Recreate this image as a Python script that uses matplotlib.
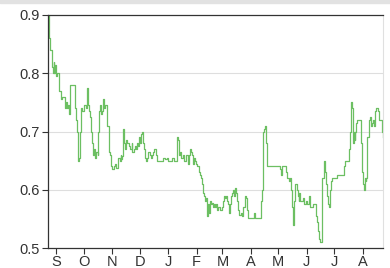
import pandas as pd
import matplotlib
matplotlib.use("Agg")
import matplotlib.pyplot as plt
import matplotlib.dates as mdates
from matplotlib.patches import Rectangle

# Series (daily-ish samples, step line)
dates = [
    "2013-08-23", "2013-08-24", "2013-08-25", "2013-08-27", "2013-08-28", "2013-08-29",
    "2013-08-30", "2013-08-31", "2013-09-01", "2013-09-02", "2013-09-04", "2013-09-06",
    "2013-09-07", "2013-09-10", "2013-09-12", "2013-09-13", "2013-09-14", "2013-09-15",
    "2013-09-16", "2013-09-19", "2013-09-21", "2013-09-22", "2013-09-23", "2013-09-24",
    "2013-09-25", "2013-09-26", "2013-09-27", "2013-09-28", "2013-09-29", "2013-10-01",
    "2013-10-03", "2013-10-04", "2013-10-05", "2013-10-06", "2013-10-07", "2013-10-08",
    "2013-10-09", "2013-10-10", "2013-10-11", "2013-10-12", "2013-10-13", "2013-10-14",
    "2013-10-16", "2013-10-17", "2013-10-18", "2013-10-19", "2013-10-20", "2013-10-21",
    "2013-10-22", "2013-10-23", "2013-10-24", "2013-10-26", "2013-10-28", "2013-10-29",
    "2013-10-30", "2013-10-31", "2013-11-01", "2013-11-03", "2013-11-04", "2013-11-05",
    "2013-11-07", "2013-11-09", "2013-11-10", "2013-11-11", "2013-11-12", "2013-11-13",
    "2013-11-14", "2013-11-15", "2013-11-16", "2013-11-17", "2013-11-19", "2013-11-20",
    "2013-11-22", "2013-11-23", "2013-11-25", "2013-11-26", "2013-11-27", "2013-11-28",
    "2013-11-29", "2013-11-30", "2013-12-01", "2013-12-02", "2013-12-03", "2013-12-05",
    "2013-12-06", "2013-12-07", "2013-12-08", "2013-12-09", "2013-12-10", "2013-12-12",
    "2013-12-13", "2013-12-14", "2013-12-15", "2013-12-17", "2013-12-19", "2013-12-20",
    "2013-12-21", "2013-12-25", "2013-12-26", "2013-12-29", "2013-12-31", "2014-01-01",
    "2014-01-03", "2014-01-05", "2014-01-07", "2014-01-10", "2014-01-11", "2014-01-12",
    "2014-01-13", "2014-01-14", "2014-01-15", "2014-01-17", "2014-01-18", "2014-01-20",
    "2014-01-22", "2014-01-23", "2014-01-24", "2014-01-25", "2014-01-26", "2014-01-27",
    "2014-01-28", "2014-01-29", "2014-01-30", "2014-01-31", "2014-02-01", "2014-02-02",
    "2014-02-04", "2014-02-05", "2014-02-06", "2014-02-07", "2014-02-08", "2014-02-09",
    "2014-02-10", "2014-02-11", "2014-02-12", "2014-02-13", "2014-02-14", "2014-02-16",
    "2014-02-17", "2014-02-18", "2014-02-19", "2014-02-20", "2014-02-21", "2014-02-22",
    "2014-02-23", "2014-02-24", "2014-02-26", "2014-03-01", "2014-03-02", "2014-03-03",
    "2014-03-04", "2014-03-05", "2014-03-06", "2014-03-07", "2014-03-08", "2014-03-09",
    "2014-03-10", "2014-03-11", "2014-03-13", "2014-03-14", "2014-03-15", "2014-03-16",
    "2014-03-17", "2014-03-18", "2014-03-19", "2014-03-21", "2014-03-22", "2014-03-24",
    "2014-03-26", "2014-03-27", "2014-03-28", "2014-03-29", "2014-04-03", "2014-04-04",
    "2014-04-05", "2014-04-11", "2014-04-12", "2014-04-13", "2014-04-14", "2014-04-15",
    "2014-04-16", "2014-04-17", "2014-04-18", "2014-04-19", "2014-04-30", "2014-05-02",
    "2014-05-03", "2014-05-04", "2014-05-05", "2014-05-08", "2014-05-09", "2014-05-10",
    "2014-05-13", "2014-05-14", "2014-05-15", "2014-05-16", "2014-05-17", "2014-05-18",
    "2014-05-19", "2014-05-20", "2014-05-21", "2014-05-22", "2014-05-23", "2014-05-24",
    "2014-05-25", "2014-05-28", "2014-05-29", "2014-05-31", "2014-06-01", "2014-06-03",
    "2014-06-04", "2014-06-05", "2014-06-08", "2014-06-10", "2014-06-11", "2014-06-12",
    "2014-06-13", "2014-06-14", "2014-06-15", "2014-06-17", "2014-06-18", "2014-06-20",
    "2014-06-21", "2014-06-22", "2014-06-23", "2014-06-24", "2014-06-25", "2014-06-26",
    "2014-06-27", "2014-06-28", "2014-07-03", "2014-07-04", "2014-07-10", "2014-07-11",
    "2014-07-12", "2014-07-13", "2014-07-16", "2014-07-17", "2014-07-18", "2014-07-19",
    "2014-07-20", "2014-07-21", "2014-07-22", "2014-07-23", "2014-07-24", "2014-07-25",
    "2014-07-26", "2014-07-29", "2014-07-30", "2014-07-31", "2014-08-01", "2014-08-02",
    "2014-08-03", "2014-08-04", "2014-08-05", "2014-08-06", "2014-08-08", "2014-08-09",
    "2014-08-10", "2014-08-11", "2014-08-12", "2014-08-13", "2014-08-14", "2014-08-15",
    "2014-08-17", "2014-08-18", "2014-08-19", "2014-08-22", "2014-08-23",
]
values = [
    0.90, 0.86, 0.84, 0.81, 0.80, 0.82,
    0.80, 0.815, 0.795, 0.80, 0.77, 0.755,
    0.76, 0.74, 0.75, 0.74, 0.745, 0.73,
    0.78, 0.78, 0.74, 0.725, 0.72, 0.70,
    0.65, 0.655, 0.70, 0.74, 0.735, 0.745,
    0.74, 0.77, 0.775, 0.745, 0.735, 0.725,
    0.70, 0.68, 0.66, 0.67, 0.655, 0.665,
    0.66, 0.70, 0.735, 0.745, 0.73, 0.735,
    0.755, 0.74, 0.745, 0.71, 0.685, 0.665,
    0.66, 0.64, 0.635, 0.64, 0.645, 0.637,
    0.655, 0.65, 0.66, 0.652, 0.658, 0.705,
    0.68, 0.67, 0.685, 0.68, 0.675, 0.67,
    0.68, 0.665, 0.67, 0.675, 0.67, 0.68,
    0.675, 0.69, 0.68, 0.695, 0.70, 0.68,
    0.67, 0.655, 0.65, 0.655, 0.665, 0.66,
    0.655, 0.66, 0.665, 0.67, 0.66, 0.65,
    0.65, 0.65, 0.655, 0.652, 0.655, 0.65,
    0.65, 0.655, 0.65, 0.65, 0.69, 0.685,
    0.66, 0.665, 0.655, 0.66, 0.65, 0.66,
    0.65, 0.645, 0.66, 0.67, 0.665, 0.66,
    0.645, 0.655, 0.65, 0.645, 0.64, 0.64,
    0.63, 0.625, 0.62, 0.61, 0.595, 0.59,
    0.58, 0.585, 0.555, 0.575, 0.56, 0.58,
    0.575, 0.578, 0.57, 0.575, 0.57, 0.575,
    0.565, 0.57, 0.565, 0.57, 0.58, 0.59,
    0.585, 0.59, 0.58, 0.575, 0.56, 0.575,
    0.59, 0.595, 0.60, 0.59, 0.603, 0.595,
    0.58, 0.565, 0.557, 0.56, 0.555, 0.57,
    0.59, 0.585, 0.565, 0.552, 0.552, 0.56,
    0.552, 0.552, 0.58, 0.60, 0.70, 0.705,
    0.71, 0.705, 0.68, 0.64, 0.64, 0.64,
    0.635, 0.625, 0.64, 0.64, 0.63, 0.62,
    0.615, 0.62, 0.60, 0.57, 0.54, 0.58,
    0.61, 0.61, 0.60, 0.59, 0.58, 0.595,
    0.58, 0.585, 0.575, 0.58, 0.575, 0.59,
    0.59, 0.57, 0.575, 0.575, 0.555, 0.545,
    0.53, 0.515, 0.51, 0.51, 0.62, 0.65,
    0.63, 0.61, 0.59, 0.575, 0.57, 0.60,
    0.615, 0.62, 0.62, 0.625, 0.625, 0.635,
    0.64, 0.65, 0.65, 0.67, 0.70, 0.75,
    0.74, 0.68, 0.70, 0.685, 0.70, 0.715,
    0.72, 0.72, 0.68, 0.63, 0.61, 0.60,
    0.62, 0.615, 0.62, 0.69, 0.72, 0.725,
    0.71, 0.715, 0.72, 0.71, 0.735, 0.74,
    0.74, 0.735, 0.72, 0.70, 0.69,
]
y_ticks = [0.5, 0.6, 0.7, 0.8, 0.9]
month_labels = ["S", "O", "N", "D", "J", "F", "M", "A", "M", "J", "J", "A"]

x = pd.to_datetime(dates)

plt.rcParams["font.family"] = ["Liberation Sans", "DejaVu Sans"]

fig = plt.figure(figsize=(3.9, 2.68), dpi=100)
ax = fig.add_axes([48 / 390, 20 / 268, 335 / 390, 233 / 268])

# light strip along the very top of the picture
fig.patches.append(Rectangle((0, 1 - 3 / 268), 1, 3 / 268, transform=fig.transFigure,
                             color="#e2e2e2", zorder=0))

ax.plot(x, values, color="#6cbf62", linewidth=0.9, drawstyle="steps-post")

ax.set_ylim(0.5, 0.9)
ax.set_xlim(x[0], x[-1])
ax.set_yticks(y_ticks)
ax.set_yticklabels([f"{v:.1f}" for v in y_ticks])
for v in y_ticks[1:-1]:
    ax.axhline(v, color="#dedede", linewidth=0.8, zorder=0)

month_starts = pd.date_range("2013-09-01", periods=12, freq="MS")
ax.set_xticks(month_starts)
ax.set_xticklabels(month_labels)

for side in ["left", "bottom", "top"]:
    ax.spines[side].set_color("#333333")
    ax.spines[side].set_linewidth(0.9)
ax.spines["right"].set_color("#e0e0e0")
ax.spines["right"].set_linewidth(0.8)

ax.tick_params(axis="both", colors="#333333", labelsize=10.5, length=4, width=0.8, pad=2)
ax.tick_params(axis="x", pad=1)

fig.savefig("out.png", dpi=100)
